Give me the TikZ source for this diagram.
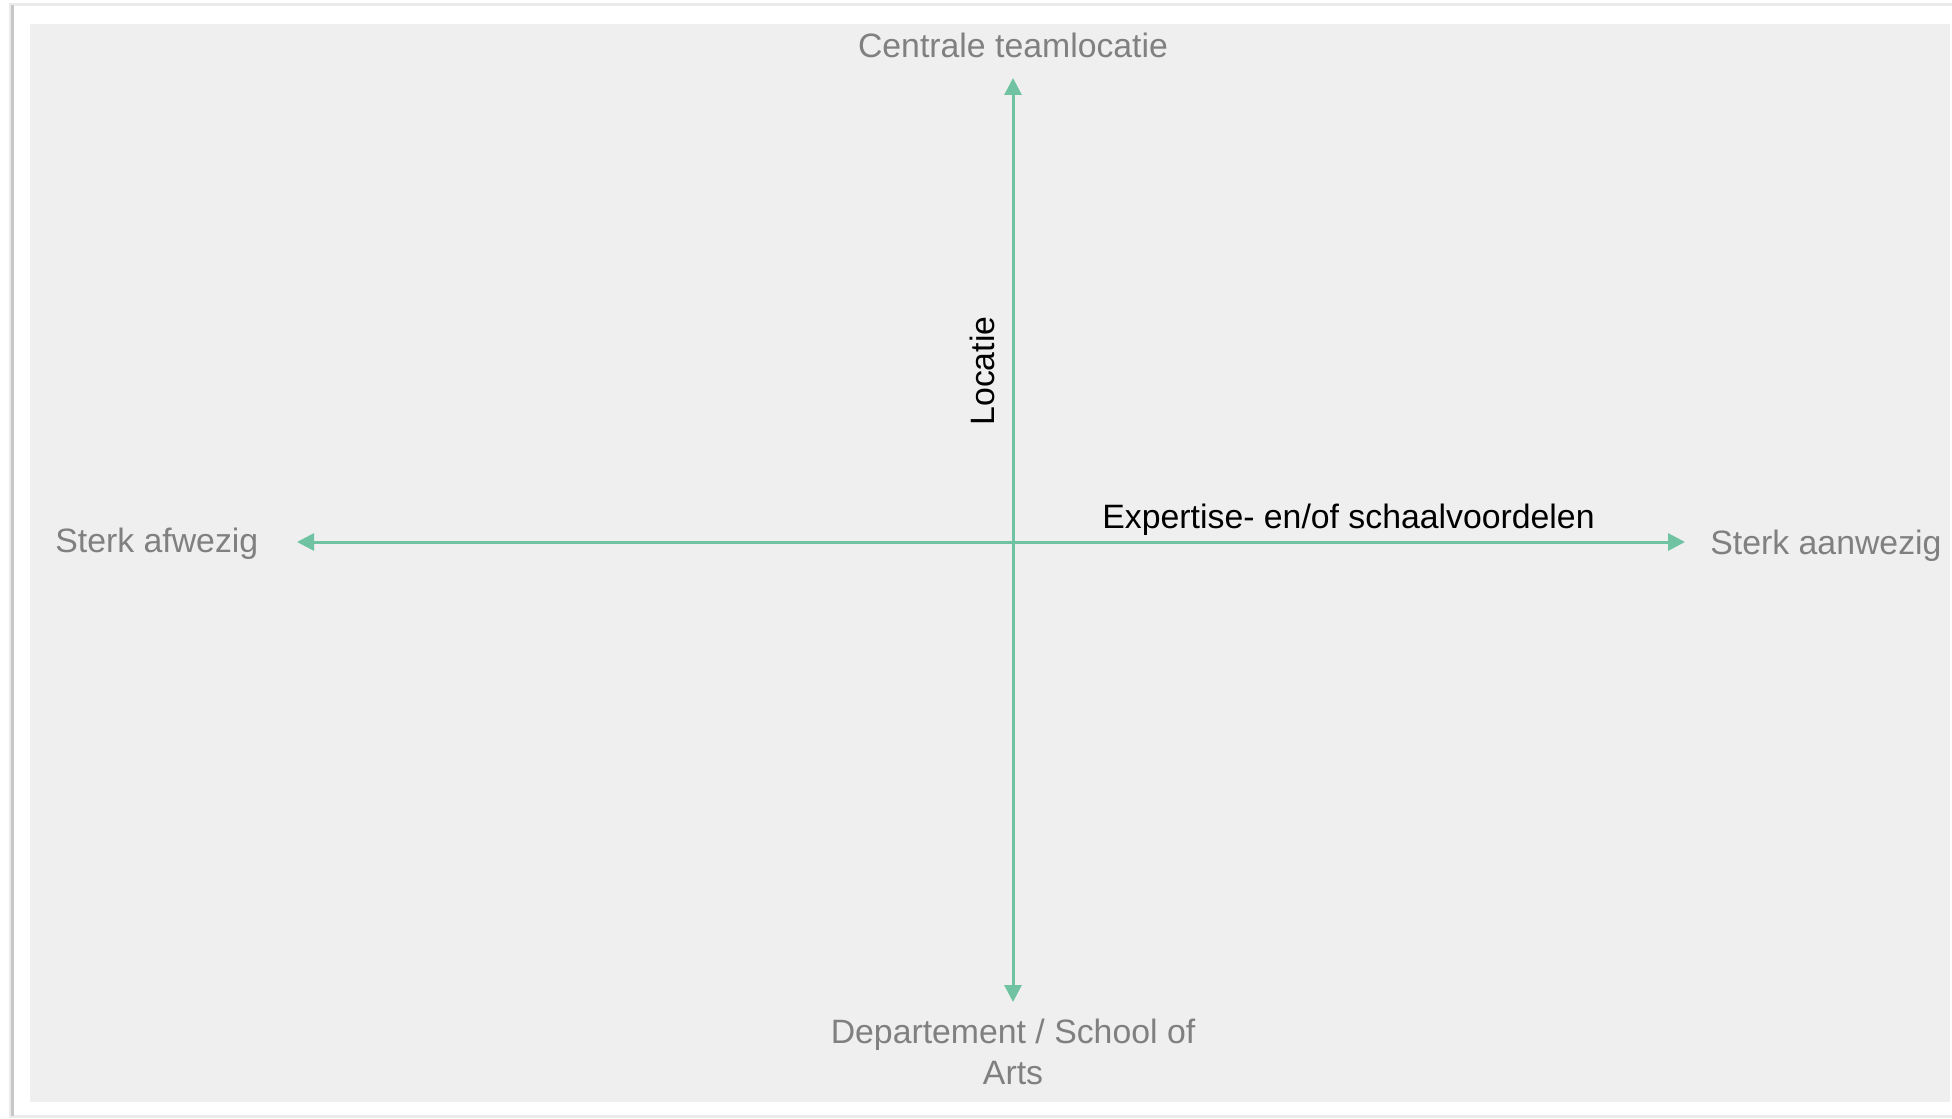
\documentclass[tikz,border=0pt]{standalone}
\usepackage{fontspec}
\setmainfont{Liberation Sans}
\usetikzlibrary{arrows.meta}
\definecolor{axisgreen}{HTML}{6FC3A2}
\definecolor{polegrey}{HTML}{808080}
\definecolor{panelgrey}{HTML}{EFEFEF}
\tikzset{
  axisline/.style={axisgreen,line width=1.5pt,{Triangle[length=8.5pt,width=8.5pt]}-{Triangle[length=8.5pt,width=8.5pt]}},
  polelabel/.style={polegrey,inner sep=0pt,font=\fontsize{16.9}{20.5}\selectfont},
  axislabel/.style={black,inner sep=0pt,font=\fontsize{16.9}{20.5}\selectfont}
}
\begin{document}
\begin{tikzpicture}[x=0.5pt,y=-0.5pt]
\useasboundingbox (0,0) rectangle (1952,1118);
% frame with shadow
\fill[white] (0,0) rectangle (1952,1118);
\fill[black!8] (9,3) rectangle (1952,1118);
\fill[black!22] (11,5) rectangle (14,1116);
\fill[white] (14,6) rectangle (1952,1115);
\fill[panelgrey] (30,24) rectangle (1950,1102);
% axis ends
\coordinate (N) at (1013,78);
\coordinate (S) at (1013,1002);
\coordinate (W) at (297,542);
\coordinate (E) at (1685,542);
\draw[axisline] (W)--(E);
\draw[axisline] (S)--(N);
% labels
\node[polelabel,anchor=base] (centraal) at (1013,58) {Centrale teamlocatie};
\node[polelabel,anchor=base west] (afwezig) at (55,552) {Sterk afwezig};
\node[polelabel,anchor=base west] (aanwezig) at (1710,554) {Sterk aanwezig};
\node[polelabel,anchor=base,align=center] (departement) at (1013,1084) {Departement / School of\\Arts};
\node[axislabel,anchor=base west] (expertise) at (1102,528) {Expertise- en/of schaalvoordelen};
\node[axislabel,anchor=base,rotate=90] (locatie) at (994,371) {Locatie};
\end{tikzpicture}
\end{document}
